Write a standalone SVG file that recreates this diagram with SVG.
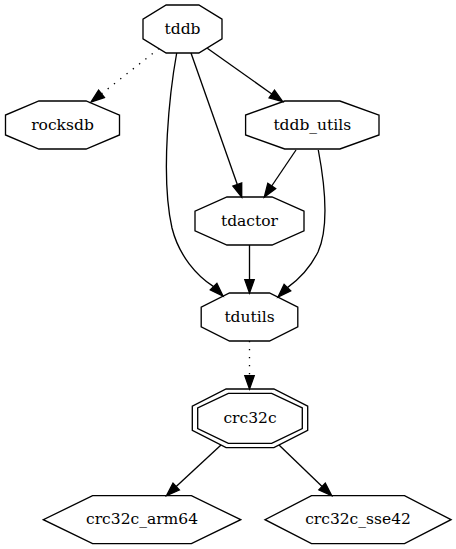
<svg xmlns="http://www.w3.org/2000/svg" width="456" height="549" viewBox="0 0 456 549">
  <style>
    .node polygon { fill: none; stroke: #000; stroke-width: 1.33; }
    .node text { font-family: "DejaVu Serif", serif; font-size: 15.5px; text-anchor: middle; fill: #000; }
    .edge path { fill: none; stroke: #000; stroke-width: 1.33; }
    .edge path.dotted { stroke-dasharray: 1.33 6.67; }
    .edge polygon { fill: #000; stroke: #000; stroke-width: 1.33; }
  </style>
  <rect x="0" y="0" width="456" height="549" fill="#fff"/>

  <!-- connectors -->
  <g id="edges" class="edge">
    <!-- tddb -> rocksdb -->
    <path class="dotted" d="M159,48.5 L101.5,93.8"/>
    <polygon points="104.4,97.5 91,102 98.6,90.1"/>
    <!-- tddb -> tddb_utils -->
    <path d="M207.3,48.3 L271.8,94"/>
    <polygon points="269.1,97.8 282.7,101.7 274.5,90.2"/>
    <!-- tddb -> tdactor -->
    <path d="M191,53 L237.3,184.5"/>
    <polygon points="232.9,186.05 241.7,197 241.7,182.95"/>
    <!-- tddb -> tdutils -->
    <path d="M176.7,53 C170,90 160,175 172,228 C179,256 197,276 213.6,286.6"/>
    <polygon points="210.3,289.9 223,296 216.9,283.3"/>
    <!-- tddb_utils -> tdactor -->
    <path d="M296,150 L271.7,186"/>
    <polygon points="275.6,188.6 264.3,197 267.8,183.4"/>
    <!-- tddb_utils -> tdutils -->
    <path d="M318.3,150 C324,180 330,225 318,252 C310,268 298,280 287.4,287.6"/>
    <polygon points="290.7,290.9 278,297 284.1,284.3"/>
    <!-- tdactor -> tdutils -->
    <path d="M249.5,245 L249.5,279.7"/>
    <polygon points="254.2,279.7 249.5,293 244.8,279.7"/>
    <!-- tdutils -> crc32c -->
    <path class="dotted" d="M249.5,341 L249.5,375.7"/>
    <polygon points="254.2,375.7 249.5,389 244.8,375.7"/>
    <!-- crc32c -> crc32c_arm64 -->
    <path d="M221,445 L176.2,486.6"/>
    <polygon points="179.4,490 166.5,495.7 173,483.2"/>
    <!-- crc32c -> crc32c_sse42 -->
    <path d="M279,445 L322.1,486.5"/>
    <polygon points="318.9,489.9 331.7,495.7 325.3,483.1"/>
  </g>

  <g id="tddb" class="node">
    <polygon points="222,19.06 198.85,5 166.15,5 143,19.06 143,38.94 166.15,53 198.85,53 222,38.94"/>
    <text x="182.5" y="33.5">tddb</text>
  </g>
  <g id="rocksdb" class="node">
    <polygon points="119.5,115.06 86.1,101 38.9,101 5.5,115.06 5.5,134.94 38.9,149 86.1,149 119.5,134.94"/>
    <text x="62.5" y="129.5">rocksdb</text>
  </g>
  <g id="tddb_utils" class="node">
    <polygon points="379,115.06 339.9,101 284.7,101 245.6,115.06 245.6,134.94 284.7,149 339.9,149 379,134.94"/>
    <text x="312.3" y="129.5">tddb_utils</text>
  </g>
  <g id="tdactor" class="node">
    <polygon points="304,211.06 272.06,197 226.94,197 195,211.06 195,230.94 226.94,245 272.06,245 304,230.94"/>
    <text x="249.5" y="225.5">tdactor</text>
  </g>
  <g id="tdutils" class="node">
    <polygon points="297.8,307.06 269.5,293 229.5,293 201.2,307.06 201.2,326.94 229.5,341 269.5,341 297.8,326.94"/>
    <text x="249.5" y="321.5">tdutils</text>
  </g>
  <g id="crc32c" class="node">
    <polygon points="302.3,407.95 271.65,393.3 228.35,393.3 197.7,407.95 197.7,428.65 228.35,443.3 271.65,443.3 302.3,428.65"/>
    <polygon points="307.7,406.17 273.9,389 226.1,389 192.3,406.17 192.3,430.43 226.1,447.6 273.9,447.6 307.7,430.43"/>
    <text x="250" y="422.8">crc32c</text>
  </g>
  <g id="crc32c_arm64" class="node">
    <polygon points="240.7,519.7 191.4,495.7 92.6,495.7 43.3,519.7 92.6,543.7 191.4,543.7"/>
    <text x="142" y="524.2">crc32c_arm64</text>
  </g>
  <g id="crc32c_sse42" class="node">
    <polygon points="451,519.7 404.5,495.7 311.5,495.7 265,519.7 311.5,543.7 404.5,543.7"/>
    <text x="358" y="524.2">crc32c_sse42</text>
  </g>
</svg>
